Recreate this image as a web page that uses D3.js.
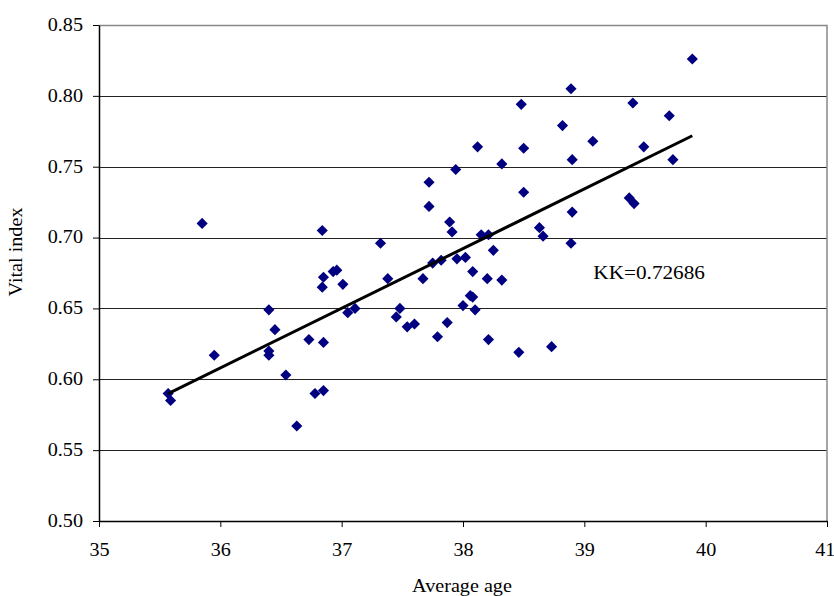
<!DOCTYPE html>
<html>
<head>
<meta charset="utf-8">
<script src="https://cdn.jsdelivr.net/npm/d3@7"></script>
<style>
  body { margin: 0; background: #fff; }
  text { font-family: "Liberation Serif", "Times New Roman", serif; fill: #000; }
</style>
</head>
<body>
<div id="chart"></div>
<script>
// data
var ages = [35.57, 35.59, 35.85, 35.95, 36.40, 36.40, 36.40, 36.45, 36.54, 36.63,
  36.73, 36.78, 36.84, 36.84, 36.85, 36.85, 36.85, 36.93, 36.96, 37.01,
  37.05, 37.11, 37.32, 37.38, 37.45, 37.48, 37.54, 37.60, 37.67, 37.72,
  37.72, 37.75, 37.79, 37.82, 37.87, 37.89, 37.91, 37.94, 37.95, 38.00,
  38.02, 38.06, 38.08, 38.08, 38.10, 38.12, 38.15, 38.20, 38.21, 38.21,
  38.25, 38.32, 38.32, 38.46, 38.48, 38.50, 38.50, 38.63, 38.66, 38.73,
  38.82, 38.89, 38.90, 38.90, 38.89, 39.07, 39.37, 39.41, 39.40, 39.49,
  39.70, 39.73, 39.89];
var vital = [0.590, 0.585, 0.710, 0.617, 0.649, 0.620, 0.617, 0.635, 0.603, 0.567,
  0.628, 0.590, 0.705, 0.665, 0.672, 0.626, 0.592, 0.676, 0.677, 0.667,
  0.647, 0.650, 0.696, 0.671, 0.644, 0.650, 0.637, 0.639, 0.671, 0.739,
  0.722, 0.682, 0.630, 0.684, 0.640, 0.711, 0.704, 0.748, 0.685, 0.652,
  0.686, 0.659, 0.658, 0.676, 0.649, 0.764, 0.702, 0.671, 0.702, 0.628,
  0.691, 0.670, 0.752, 0.619, 0.794, 0.763, 0.732, 0.707, 0.701, 0.623,
  0.779, 0.805, 0.755, 0.718, 0.696, 0.768, 0.728, 0.724, 0.795, 0.764,
  0.786, 0.755, 0.826];
var xTicks = [35, 36, 37, 38, 39, 40, 41];
var yTicks = [0.50, 0.55, 0.60, 0.65, 0.70, 0.75, 0.80, 0.85];
var kkLabel = "KK=0.72686";

var svgW = 834;
var svgH = 596;
var margin = { top: 25, right: 7, bottom: 75, left: 99 };
var width = svgW - margin.left - margin.right;
var height = svgH - margin.top - margin.bottom;
var sx = 1.12; // text looks stretched sideways

var svg = d3.select("#chart")
  .append("svg")
  .attr("width", svgW)
  .attr("height", svgH);

var chartGroup = svg.append("g")
  .attr("transform", `translate(${margin.left}, ${margin.top})`);

var x = d3.scaleLinear().domain([35, 41]).range([0, width]);
var y = d3.scaleLinear().domain([0.50, 0.85]).range([height, 0]);

var points = ages.map((a, i) => ({ age: a, vital: vital[i] }));

// gridlines
chartGroup.append("g")
  .selectAll("line")
  .data(yTicks.filter(t => t > 0.5 && t < 0.85))
  .enter()
  .append("line")
  .attr("x1", 0)
  .attr("x2", width)
  .attr("y1", d => Math.round(y(d)) + 0.5)
  .attr("y2", d => Math.round(y(d)) + 0.5)
  .attr("stroke", "#222")
  .attr("stroke-width", 1);

// plot border (top + right)
chartGroup.append("path")
  .attr("d", `M0,0.5H${width}V${height}`)
  .attr("fill", "none")
  .attr("stroke", "#888")
  .attr("stroke-width", 1.5);

// axes
var bottomAxis = d3.axisBottom(x).tickValues(xTicks).tickFormat(d3.format("d"))
  .tickSize(6).tickPadding(16).tickSizeOuter(0);
var leftAxis = d3.axisLeft(y).tickValues(yTicks).tickFormat(d3.format(".2f"))
  .tickSize(6).tickPadding(9).tickSizeOuter(0);

var xAxis = chartGroup.append("g")
  .attr("transform", `translate(0, ${height})`)
  .call(bottomAxis);
var yAxis = chartGroup.append("g")
  .call(leftAxis);

[xAxis, yAxis].forEach(g => {
  g.select(".domain").attr("stroke", "#000").attr("stroke-width", 1.5);
  g.selectAll(".tick line").attr("stroke", "#000");
  g.selectAll("text")
    .attr("font-size", "18px")
    .attr("font-family", "Liberation Serif, Times New Roman, serif")
    .attr("fill", "#000");
});
xAxis.selectAll(".tick text")
  .attr("transform", `scale(${sx},1)`)
  .attr("x", d => d === 41 ? -2 : 0);
yAxis.selectAll(".tick text")
  .attr("transform", `scale(${sx},1)`)
  .attr("x", -16 / sx)
  .attr("dy", "0.3em");

// points
chartGroup.append("g")
  .selectAll("path")
  .data(points)
  .enter()
  .append("path")
  .attr("d", d3.symbol().type(d3.symbolSquare).size(62))
  .attr("transform", d => `translate(${x(d.age)}, ${y(d.vital)}) rotate(45)`)
  .attr("fill", "#000080");

// least squares trend line
var mx = d3.mean(points, d => d.age);
var my = d3.mean(points, d => d.vital);
var slope = d3.sum(points, d => (d.age - mx) * (d.vital - my)) /
  d3.sum(points, d => (d.age - mx) * (d.age - mx));
var icpt = my - slope * mx;
var ext = d3.extent(points, d => d.age);

chartGroup.append("line")
  .attr("x1", x(ext[0]))
  .attr("y1", y(icpt + slope * ext[0]))
  .attr("x2", x(ext[1]))
  .attr("y2", y(icpt + slope * ext[1]))
  .attr("stroke", "#000")
  .attr("stroke-width", 3);

// KK label
chartGroup.append("text")
  .attr("transform", `translate(${x(39.0) + 9}, ${y(0.671)}) scale(${sx + 0.06},1)`)
  .attr("font-size", "18px")
  .text(kkLabel);

// axis titles
svg.append("text")
  .attr("transform", `translate(${margin.left + width / 2 - 1}, 592) scale(${sx},1)`)
  .attr("text-anchor", "middle")
  .attr("font-size", "18px")
  .text("Average age");

svg.append("text")
  .attr("transform", `translate(22, 252) rotate(-90) scale(${sx},1)`)
  .attr("text-anchor", "middle")
  .attr("font-size", "18px")
  .text("Vital index");
</script>
</body>
</html>
